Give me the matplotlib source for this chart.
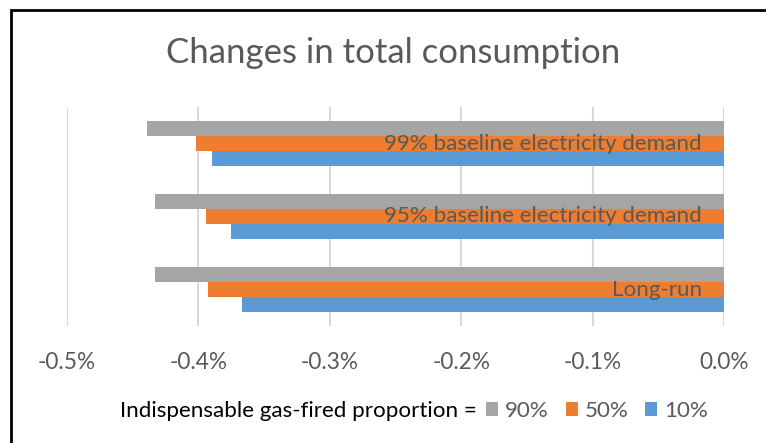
import numpy as np
import matplotlib
matplotlib.use("Agg")
import matplotlib.pyplot as plt
from matplotlib.patches import Rectangle
from matplotlib.ticker import FuncFormatter

plt.rcParams['font.family'] = ['Lato', 'DejaVu Sans']

# data (percent change in total consumption)
categories = ["Long-run", "95% baseline electricity demand", "99% baseline electricity demand"]
series_names = ["90%", "50%", "10%"]
share_90 = [-0.433, -0.433, -0.439]
share_50 = [-0.393, -0.394, -0.402]
share_10 = [-0.367, -0.375, -0.390]
x_ticks = [-0.5, -0.4, -0.3, -0.2, -0.1, 0.0]

colors = ["#A5A5A5", "#ED7D31", "#5B9BD5"]
text_col = "#595959"

W, H = 766, 443
fig = plt.figure(figsize=(W / 100, H / 100), dpi=100)

# chart border (top and left only visible)
fig.patches.append(Rectangle((11 / W, -0.1), 1.2, 1 - 10 / H + 0.1, transform=fig.transFigure,
                             fill=False, edgecolor="black", linewidth=2))

ax = fig.add_axes([67 / W, (H - 326) / H, (724 - 67) / W, (326 - 107) / H])

y = np.arange(len(categories))
h = 0.206
for vals, off, col, name in zip([share_90, share_50, share_10], [h, 0, -h], colors, series_names):
    ax.barh(y + off, vals, height=h, color=col, label=name, zorder=2)

ax.set_xlim(-0.5, 0.0)
ax.set_ylim(-0.5, len(categories) - 0.5)
ax.set_xticks(x_ticks)
ax.xaxis.set_major_formatter(FuncFormatter(lambda v, p: f"{v:.1f}%"))
ax.set_yticks([])
ax.grid(axis="x", color="#D9D9D9", linewidth=1.5, zorder=0)
ax.tick_params(axis="x", length=0, pad=19, labelsize=16.3, labelcolor=text_col)
for s in ax.spines.values():
    s.set_visible(False)

# category labels inside the plot, right aligned near zero
for yi, cat in zip(y, categories):
    ax.text(-0.017, yi, cat, ha="right", va="center", fontsize=16.1, color=text_col, zorder=3)

fig.text(393 / W, 1 - 53 / H, "Changes in total consumption", ha="center", va="center",
         fontsize=25, color=text_col)

fig.text(120 / W, 1 - 411 / H, "Indispensable gas-fired proportion =", ha="left", va="center",
         fontsize=16.1, color="black")
fig.legend(loc="center left", bbox_to_anchor=(486 / W, 1 - 411 / H), ncol=3, frameon=False,
           fontsize=16.1, labelcolor=text_col, handlelength=0.55, handleheight=0.55,
           handletextpad=0.3, columnspacing=0.75, borderaxespad=0, borderpad=0)

fig.savefig("out.png", dpi=100)
